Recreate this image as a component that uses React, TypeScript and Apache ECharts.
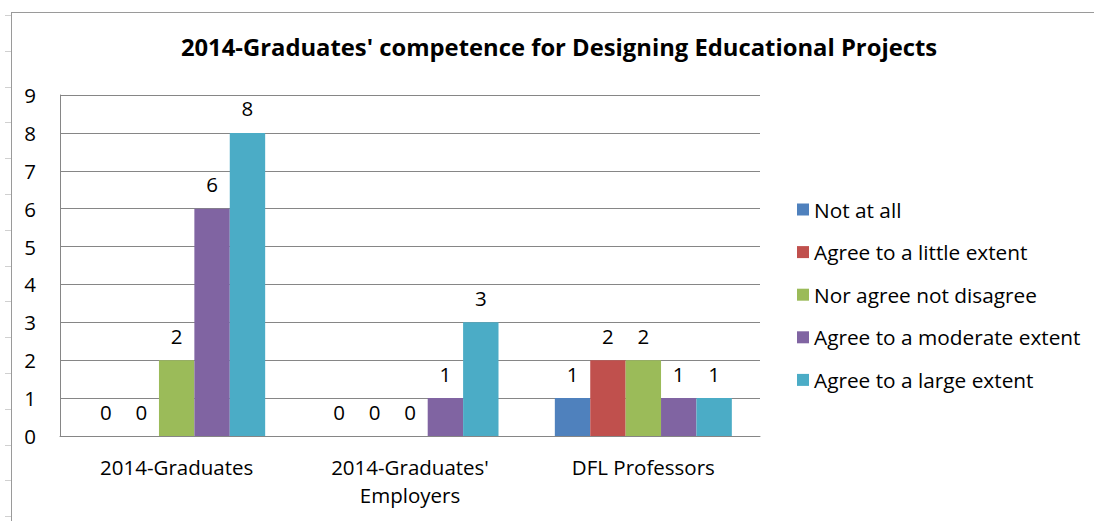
import React, { useEffect, useRef } from "react";
import * as echarts from "echarts";

const categories = ["2014-Graduates", "2014-Graduates'\nEmployers", "DFL Professors"];
const seriesNames = [
  "Not at all",
  "Agree to a little extent",
  "Nor agree not disagree",
  "Agree to a moderate extent",
  "Agree to a large extent",
];
const notAtAll = [0, 0, 1];
const littleExtent = [0, 0, 2];
const neutral = [2, 0, 2];
const moderateExtent = [6, 1, 1];
const largeExtent = [8, 3, 1];
const colors = ["#4F81BD", "#C0504D", "#9BBB59", "#8064A2", "#4BACC6"];
const yTicks = [0, 1, 2, 3, 4, 5, 6, 7, 8, 9];

const FONT = "'Open Sans', 'Noto Sans', sans-serif";

export default function App() {
  const ref = useRef<HTMLDivElement>(null);
  useEffect(() => {
    if (!ref.current) return;
    const chart = echarts.init(ref.current, null, { renderer: "svg" });
    const values = [notAtAll, littleExtent, neutral, moderateExtent, largeExtent];
    const marks: any[] = [];
    for (let y = 15; y <= 521; y += 35.8) {
      marks.push({
        type: "line",
        shape: { x1: 5, y1: Math.round(y) + 0.5, x2: 11, y2: Math.round(y) + 0.5 },
        style: { stroke: "#d0d0d0", lineWidth: 1 },
        silent: true,
      });
    }
    chart.setOption({
      animation: false,
      backgroundColor: "#ffffff",
      title: {
        text: "2014-Graduates' competence for Designing Educational Projects",
        left: 554,
        top: 30,
        textAlign: "center",
        textStyle: { fontFamily: FONT, fontSize: 23.8, fontWeight: "bold", color: "#000" },
      },
      legend: {
        orient: "vertical",
        left: 792,
        top: 194,
        itemWidth: 12,
        itemHeight: 12,
        itemGap: 21.6,
        itemTextGap: 11,
        icon: "rect",
        data: seriesNames,
        textStyle: { fontFamily: FONT, fontSize: 20.8, lineHeight: 21, color: "#000" },
      },
      grid: { left: 60, right: 334, top: 95, bottom: 85, containLabel: false },
      xAxis: {
        type: "category",
        data: categories,
        axisLine: { lineStyle: { color: "#868686" } },
        axisTick: { show: false },
        axisLabel: {
          fontFamily: FONT,
          fontSize: 20.5,
          color: "#000",
          margin: 17,
          lineHeight: 28,
        },
      },
      yAxis: {
        type: "value",
        min: 0,
        max: 9,
        interval: 1,
        axisLine: { show: true, lineStyle: { color: "#868686" } },
        axisTick: { show: false },
        splitLine: { lineStyle: { color: "#868686" } },
        axisLabel: {
          fontFamily: FONT,
          fontSize: 20.5,
          color: "#000",
          margin: 24,
          formatter: (v: number) => (yTicks.includes(v) ? String(v) : ""),
        },
      },
      series: seriesNames.map((name, i) => ({
        name,
        type: "bar",
        data: values[i],
        barWidth: 35.4,
        barGap: "0%",
        itemStyle: { color: colors[i] },
        label: {
          show: true,
          position: "top",
          distance: 14,
          fontFamily: FONT,
          fontSize: 20.5,
          color: "#000",
        },
      })),
      graphic: [
        {
          type: "line",
          shape: { x1: 11.5, y1: 12, x2: 11.5, y2: 521 },
          style: { stroke: "#9a9a9a", lineWidth: 1 },
          silent: true,
        },
        {
          type: "line",
          shape: { x1: 11, y1: 12.5, x2: 1094, y2: 12.5 },
          style: { stroke: "#9a9a9a", lineWidth: 1 },
          silent: true,
        },
        ...marks,
      ],
    });
    return () => chart.dispose();
  }, []);
  return (
    <div
      ref={ref}
      style={{ position: "fixed", left: 0, top: 0, width: 1094, height: 521 }}
    />
  );
}
